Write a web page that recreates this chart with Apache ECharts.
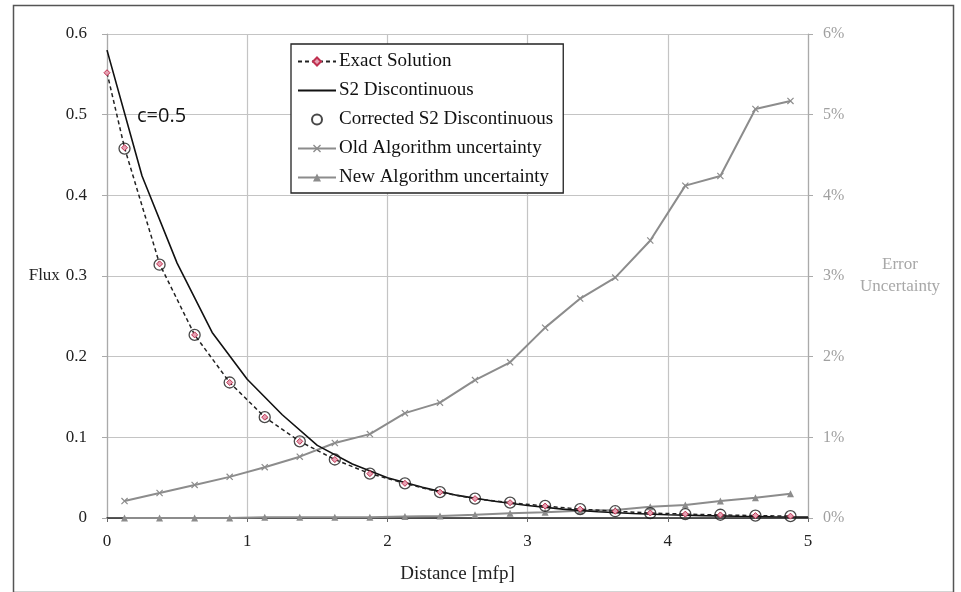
<!DOCTYPE html>
<html>
<head>
<meta charset="utf-8">
<script src="https://cdn.jsdelivr.net/npm/echarts@6/dist/echarts.min.js"></script>
<style>
  html, body { margin: 0; padding: 0; background: #fff; }
  #chart { width: 961px; height: 592px; }
</style>
</head>
<body>
<div id="chart"></div>
<script>
// Sample positions (cell centres) in mean free paths
const distances = [0.125, 0.375, 0.625, 0.875, 1.125, 1.375, 1.625, 1.875, 2.125, 2.375,
                   2.625, 2.875, 3.125, 3.375, 3.625, 3.875, 4.125, 4.375, 4.625, 4.875];
// Exact solution starts at the boundary (x = 0) then follows the cell centres
const exactDistances = [0].concat(distances);
const exactFlux = [0.552, 0.459, 0.315, 0.227, 0.168, 0.125, 0.095, 0.0725, 0.055, 0.043, 0.032,
                   0.024, 0.019, 0.0148, 0.011, 0.0084, 0.0062, 0.0048, 0.0038, 0.003, 0.0023];
// S2 discontinuous solution on a quarter-mfp mesh
const s2Distances = [0, 0.25, 0.5, 0.75, 1.0, 1.25, 1.5, 1.75, 2.0, 2.25, 2.5,
                     2.75, 3.0, 3.25, 3.5, 3.75, 4.0, 4.25, 4.5, 4.75, 5.0];
const s2Flux = [0.580, 0.424, 0.316, 0.230, 0.172, 0.128, 0.090, 0.067, 0.050, 0.038, 0.028,
                0.021, 0.0155, 0.011, 0.0078, 0.0056, 0.004, 0.003, 0.0022, 0.0016, 0.0012];
// Corrected S2 discontinuous values at the cell centres
const correctedFlux = [0.458, 0.314, 0.227, 0.168, 0.125, 0.095, 0.0725, 0.055, 0.043, 0.032,
                       0.024, 0.019, 0.015, 0.011, 0.0084, 0.006, 0.0047, 0.004, 0.003, 0.0023];
// Relative uncertainty, in percent
const oldUncertainty = [0.21, 0.31, 0.41, 0.51, 0.63, 0.76, 0.93, 1.04, 1.30, 1.43,
                        1.71, 1.93, 2.36, 2.72, 2.98, 3.44, 4.12, 4.24, 5.07, 5.17];
const newUncertainty = [0.0, 0.0, 0.0, 0.0, 0.01, 0.01, 0.01, 0.01, 0.02, 0.025,
                        0.04, 0.06, 0.07, 0.09, 0.10, 0.14, 0.16, 0.21, 0.25, 0.30];

const pairs = (xs, ys) => xs.map((x, i) => [x, ys[i]]);

const serif = '"Liberation Serif", "Times New Roman", serif';
const crossPath = 'path://M0,1.2L1.2,0L10,8.8L8.8,10Z M8.8,0L10,1.2L1.2,10L0,8.8Z';

const chart = echarts.init(document.getElementById('chart'), null, { renderer: 'canvas' });

chart.setOption({
  backgroundColor: '#ffffff',
  animation: false,
  grid: { left: 107, right: 153, top: 34, bottom: 74, containLabel: false, outerBoundsMode: 'none' },
  legend: {
    orient: 'vertical',
    left: 291,
    top: 44,
    padding: [8, 10, 6, 6],
    itemGap: 10,
    itemWidth: 38,
    itemHeight: 10,
    backgroundColor: '#ffffff',
    borderColor: '#222222',
    borderWidth: 1.3,
    textStyle: { fontFamily: serif, fontSize: 19, color: '#111', padding: [0, 0, 0, -2] },
    data: [
      'Exact Solution',
      { name: 'S2 Discontinuous', itemStyle: { opacity: 0 } },
      'Corrected S2 Discontinuous',
      'Old Algorithm uncertainty',
      'New Algorithm uncertainty'
    ]
  },
  xAxis: {
    type: 'value',
    min: 0, max: 5, interval: 1,
    name: 'Distance [mfp]',
    nameLocation: 'middle',
    nameGap: 47,
    nameTextStyle: { fontFamily: serif, fontSize: 19, color: '#222' },
    axisLine: { lineStyle: { color: '#222', width: 1.5 } },
    axisTick: { show: true, length: 4, lineStyle: { color: '#666' } },
    axisLabel: { fontFamily: serif, fontSize: 17, color: '#222', margin: 15 },
    splitLine: { show: true, lineStyle: { color: '#c4c4c4', width: 1.2 } }
  },
  yAxis: [
    {
      type: 'value',
      min: 0, max: 0.6, interval: 0.1,
      name: 'Flux',
      nameLocation: 'middle',
      nameRotate: 0,
      nameGap: 45,
      nameTextStyle: { fontFamily: serif, fontSize: 17, color: '#222' },
      axisLine: { show: true, lineStyle: { color: '#aaa', width: 1.2 } },
      axisTick: { show: true, length: 5, lineStyle: { color: '#aaa' } },
      axisLabel: { fontFamily: serif, fontSize: 17, color: '#222', margin: 20,
                   formatter: v => (v === 0 ? '0' : v.toFixed(1)) },
      splitLine: { show: true, lineStyle: { color: '#c4c4c4', width: 1.2 } }
    },
    {
      type: 'value',
      min: 0, max: 6, interval: 1,
      position: 'right',
      name: 'Error\nUncertainty',
      nameLocation: 'middle',
      nameRotate: 0,
      nameGap: 92,
      nameTextStyle: { fontFamily: serif, fontSize: 17, color: '#a8a8a8', lineHeight: 22, align: 'center' },
      axisLine: { show: true, lineStyle: { color: '#aaa', width: 1.2 } },
      axisTick: { show: true, length: 5, lineStyle: { color: '#aaa' } },
      axisLabel: { fontFamily: serif, fontSize: 16, color: '#a0a0a0', margin: 15,
                   formatter: '{value}%' },
      splitLine: { show: false }
    }
  ],
  graphic: [
    {
      type: 'rect',
      left: 11, top: 3,
      shape: { width: 940, height: 587 },
      style: { fill: 'none', stroke: '#555', lineWidth: 1.5 },
      silent: true
    },
    {
      type: 'text',
      left: 137, top: 106,
      style: { text: 'c=0.5', font: '20px "Open Sans", sans-serif', fill: '#111' },
      z: 10
    }
  ],
  series: [
    {
      name: 'Old Algorithm uncertainty',
      type: 'line',
      yAxisIndex: 1,
      data: pairs(distances, oldUncertainty),
      symbol: crossPath,
      symbolSize: 7,
      showAllSymbol: true,
      lineStyle: { color: '#8c8c8c', width: 2 },
      itemStyle: { color: '#8c8c8c' },
      z: 2
    },
    {
      name: 'New Algorithm uncertainty',
      type: 'line',
      yAxisIndex: 1,
      data: pairs(distances, newUncertainty),
      symbol: 'triangle',
      symbolSize: 7,
      showAllSymbol: true,
      lineStyle: { color: '#8c8c8c', width: 2 },
      itemStyle: { color: '#8c8c8c' },
      z: 2
    },
    {
      name: 'S2 Discontinuous',
      type: 'line',
      data: pairs(s2Distances, s2Flux),
      symbol: 'none',
      lineStyle: { color: '#111', width: 1.6 },
      itemStyle: { color: '#111' },
      z: 3
    },
    {
      name: 'Exact Solution',
      type: 'line',
      data: pairs(exactDistances, exactFlux),
      symbol: 'diamond',
      symbolSize: 6,
      showAllSymbol: true,
      lineStyle: { color: '#222', width: 1.5, type: [4, 3] },
      itemStyle: { color: '#e6a3b4', borderColor: '#c03050', borderWidth: 1 },
      z: 4
    },
    {
      name: 'Corrected S2 Discontinuous',
      type: 'scatter',
      data: pairs(distances, correctedFlux),
      symbol: 'circle',
      symbolSize: 11,
      itemStyle: { color: 'rgba(0,0,0,0)', borderColor: '#1a1a1a', borderWidth: 1.3 },
      z: 5
    }
  ]
});
</script>
</body>
</html>
